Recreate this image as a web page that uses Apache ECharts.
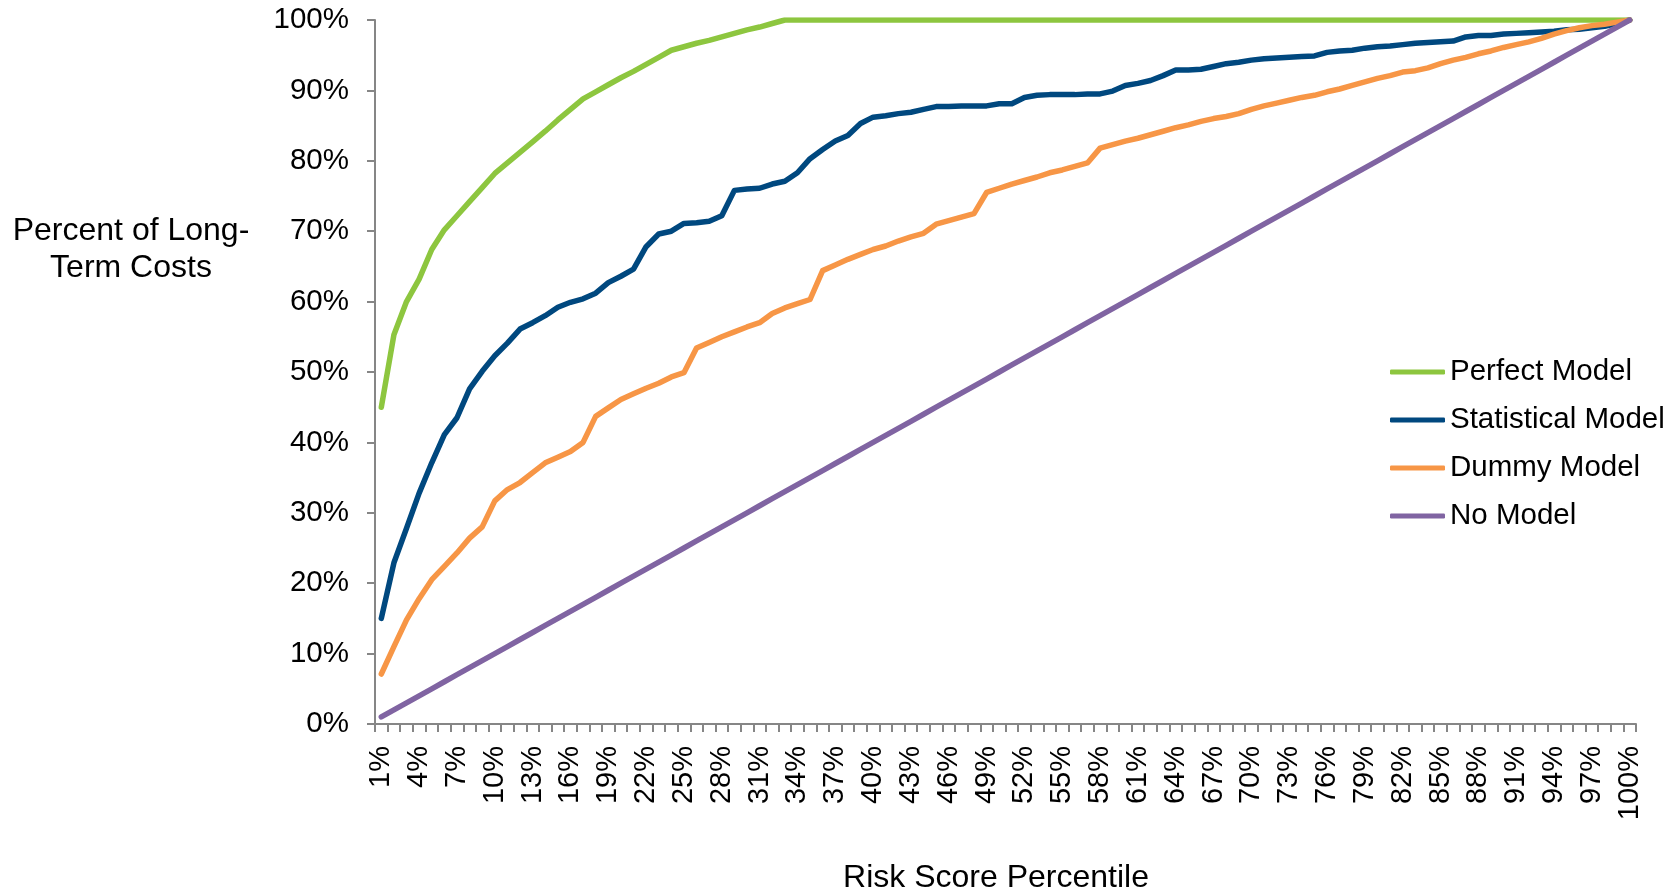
<!DOCTYPE html>
<html>
<head>
<meta charset="utf-8">
<script src="https://cdn.jsdelivr.net/npm/echarts@6/dist/echarts.min.js"></script>
<style>
html,body{margin:0;padding:0;background:#fff;}
#chart{width:1675px;height:895px;}
</style>
</head>
<body>
<div id="chart"></div>
<script>
const categories = ["1%","2%","3%","4%","5%","6%","7%","8%","9%","10%","11%","12%","13%","14%","15%","16%","17%","18%","19%","20%","21%","22%","23%","24%","25%","26%","27%","28%","29%","30%","31%","32%","33%","34%","35%","36%","37%","38%","39%","40%","41%","42%","43%","44%","45%","46%","47%","48%","49%","50%","51%","52%","53%","54%","55%","56%","57%","58%","59%","60%","61%","62%","63%","64%","65%","66%","67%","68%","69%","70%","71%","72%","73%","74%","75%","76%","77%","78%","79%","80%","81%","82%","83%","84%","85%","86%","87%","88%","89%","90%","91%","92%","93%","94%","95%","96%","97%","98%","99%","100%"];

const perfectModel = [45.0,55.3,60.0,63.2,67.4,70.2,72.2,74.2,76.2,78.2,79.7,81.2,82.7,84.2,85.8,87.3,88.8,89.8,90.8,91.8,92.7,93.7,94.7,95.7,96.2,96.7,97.1,97.6,98.1,98.6,99.0,99.5,
100,100,100,100,100,100,100,100,100,100,100,100,100,100,100,100,100,100,100,100,100,100,100,100,100,100,100,100,100,100,100,100,100,100,100,100,100,100,100,100,100,100,100,100,100,100,100,100,100,100,100,100,100,100,100,100,100,100,100,100,100,100,100,100,100,100,100,100];

const statisticalModel = [15.0,22.9,27.8,32.8,37.1,41.1,43.5,47.6,50.1,52.3,
54.1,56.1,57.0,58.0,59.2,59.9,60.4,61.2,62.7,63.6,
64.6,67.8,69.6,70.0,71.1,71.2,71.4,72.2,75.8,76.0,
76.1,76.7,77.1,78.3,80.3,81.6,82.8,83.6,85.3,86.2,
86.4,86.7,86.9,87.3,87.7,87.7,87.8,87.8,87.8,88.1,
88.1,89.0,89.3,89.4,89.4,89.4,89.5,89.5,89.9,90.7,
91.0,91.4,92.1,92.9,92.9,93.0,93.4,93.8,94.0,94.3,
94.5,94.6,94.7,94.8,94.9,95.4,95.6,95.7,96.0,96.2,
96.3,96.5,96.7,96.8,96.9,97.0,97.6,97.8,97.8,98.0,
98.1,98.2,98.3,98.4,98.6,98.7,98.9,99.1,99.5,100];

const dummyModel = [7.1,11.0,14.8,17.8,20.5,22.4,24.3,26.4,28.0,31.7,
33.3,34.3,35.7,37.1,37.9,38.7,40.0,43.7,44.9,46.1,
46.9,47.7,48.4,49.3,49.9,53.4,54.2,55.0,55.7,56.4,
57.0,58.3,59.1,59.7,60.3,64.4,65.2,66.0,66.7,67.4,
67.9,68.6,69.2,69.7,71.0,71.5,72.0,72.5,75.5,76.1,
76.7,77.2,77.7,78.3,78.7,79.2,79.7,81.8,82.3,82.8,
83.2,83.7,84.2,84.7,85.1,85.6,86.0,86.3,86.7,87.3,
87.8,88.2,88.6,89.0,89.3,89.8,90.2,90.7,91.2,91.7,
92.1,92.6,92.8,93.2,93.8,94.3,94.7,95.2,95.6,96.1,
96.5,96.9,97.4,98.0,98.5,98.9,99.2,99.4,99.7,100];

const noModel = [1,2,3,4,5,6,7,8,9,10,11,12,13,14,15,16,17,18,19,20,21,22,23,24,25,26,27,28,29,30,31,32,33,34,35,36,37,38,39,40,41,42,43,44,45,46,47,48,49,50,51,52,53,54,55,56,57,58,59,60,61,62,63,64,65,66,67,68,69,70,71,72,73,74,75,76,77,78,79,80,81,82,83,84,85,86,87,88,89,90,91,92,93,94,95,96,97,98,99,100];

const seriesNames = ["Perfect Model","Statistical Model","Dummy Model","No Model"];
const seriesColors = ["#8DC63F","#00487F","#F79646","#8064A2"];
const seriesData = [perfectModel, statisticalModel, dummyModel, noModel];

const yAxisTitle = "Percent of Long-\nTerm Costs";
const xAxisTitle = "Risk Score Percentile";

const FONT = "'Liberation Sans', Arial, Helvetica, sans-serif";
const AXIS_GRAY = "#868686";

const chart = echarts.init(document.getElementById('chart'), null, {renderer: 'canvas'});

chart.setOption({
  animation: false,
  backgroundColor: '#ffffff',
  textStyle: {fontFamily: FONT},
  grid: {left: 375, right: 39, top: 20, bottom: 171, containLabel: false},
  legend: {
    orient: 'vertical',
    left: 1385,
    top: 352,
    itemWidth: 55,
    itemHeight: 5,
    itemGap: 18,
    icon: 'roundRect',
    textStyle: {fontFamily: FONT, fontSize: 29.5, color: '#000', lineHeight: 30},
    data: seriesNames
  },
  xAxis: {
    type: 'category',
    data: categories,
    boundaryGap: true,
    axisLine: {lineStyle: {color: AXIS_GRAY, width: 2}},
    axisTick: {show: true, interval: 0, length: 8, lineStyle: {color: AXIS_GRAY, width: 2}},
    axisLabel: {interval: 2, rotate: 90, margin: 22, fontSize: 29, color: '#000', fontFamily: FONT},
    splitLine: {show: false}
  },
  yAxis: {
    type: 'value',
    min: 0,
    max: 100,
    interval: 10,
    axisLine: {show: true, lineStyle: {color: AXIS_GRAY, width: 2}},
    axisTick: {show: true, length: 8, lineStyle: {color: AXIS_GRAY, width: 2}},
    axisLabel: {formatter: '{value}%', margin: 26, fontSize: 29.5, color: '#000', fontFamily: FONT},
    splitLine: {show: false}
  },
  graphic: [
    {
      type: 'text',
      x: 131,
      y: 250,
      style: {
        text: yAxisTitle,
        align: 'center',
        verticalAlign: 'middle',
        font: '32px ' + FONT,
        fill: '#000',
        lineHeight: 37
      }
    },
    {
      type: 'text',
      x: 996,
      y: 878,
      style: {
        text: xAxisTitle,
        align: 'center',
        verticalAlign: 'middle',
        font: '32px ' + FONT,
        fill: '#000'
      }
    }
  ],
  series: seriesNames.map((name, k) => ({
    name: name,
    type: 'line',
    data: seriesData[k],
    symbol: 'none',
    smooth: false,
    color: seriesColors[k],
    lineStyle: {width: 5.5, color: seriesColors[k], cap: 'round', join: 'round'},
    itemStyle: {color: seriesColors[k]},
    emphasis: {disabled: true}
  }))
});
</script>
</body>
</html>
